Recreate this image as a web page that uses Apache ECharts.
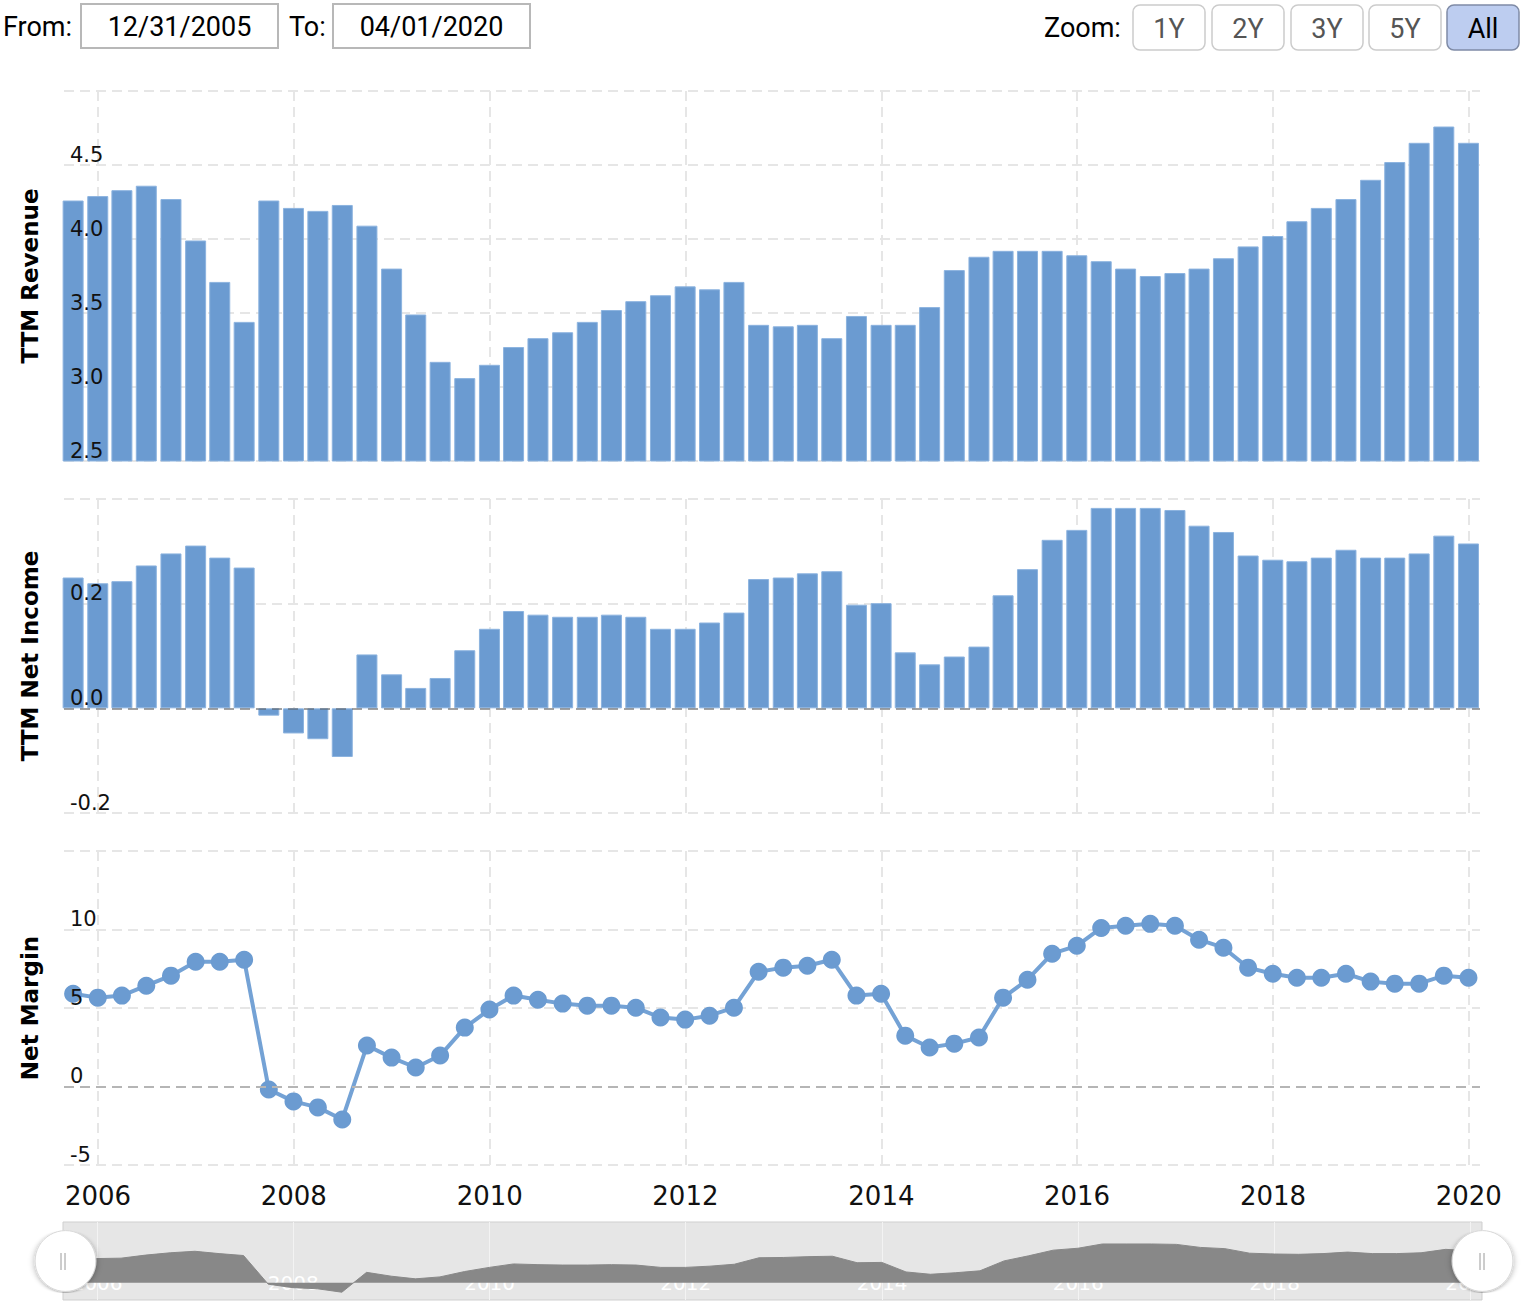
<!DOCTYPE html>
<html>
<head>
<meta charset="utf-8">
<script src="https://cdn.jsdelivr.net/npm/echarts@6/dist/echarts.min.js"></script>
<style>
html,body{margin:0;padding:0;background:#fff;}
#c{width:1524px;height:1310px;}
</style>
</head>
<body>
<div id="c"></div>
<script>
// ---------- DATA ----------
const quarterDates = ['2005-09-30','2005-12-31',
'2006-03-31','2006-06-30','2006-09-30','2006-12-31',
'2007-03-31','2007-06-30','2007-09-30','2007-12-31',
'2008-03-31','2008-06-30','2008-09-30','2008-12-31',
'2009-03-31','2009-06-30','2009-09-30','2009-12-31',
'2010-03-31','2010-06-30','2010-09-30','2010-12-31',
'2011-03-31','2011-06-30','2011-09-30','2011-12-31',
'2012-03-31','2012-06-30','2012-09-30','2012-12-31',
'2013-03-31','2013-06-30','2013-09-30','2013-12-31',
'2014-03-31','2014-06-30','2014-09-30','2014-12-31',
'2015-03-31','2015-06-30','2015-09-30','2015-12-31',
'2016-03-31','2016-06-30','2016-09-30','2016-12-31',
'2017-03-31','2017-06-30','2017-09-30','2017-12-31',
'2018-03-31','2018-06-30','2018-09-30','2018-12-31',
'2019-03-31','2019-06-30','2019-09-30','2019-12-31'];

// TTM Revenue (billions)
const ttmRevenue = [4.26,4.29,4.33,4.36,4.27,3.99,3.71,3.44,4.26,4.21,
4.19,4.23,4.09,3.80,3.49,3.17,3.06,3.15,3.27,3.33,
3.37,3.44,3.52,3.58,3.62,3.68,3.66,3.71,3.42,3.41,
3.42,3.33,3.48,3.42,3.42,3.54,3.79,3.88,3.92,3.92,
3.92,3.89,3.85,3.80,3.75,3.77,3.80,3.87,3.95,4.02,
4.12,4.21,4.27,4.40,4.52,4.65,4.76,4.65];

// TTM Net Income (billions)
const ttmNetIncome = [0.250,0.239,0.243,0.273,0.296,0.311,0.288,0.269,-0.014,-0.048,
-0.059,-0.093,0.103,0.065,0.039,0.058,0.111,0.152,0.186,0.179,
0.175,0.175,0.179,0.175,0.152,0.152,0.164,0.183,0.247,0.250,
0.258,0.262,0.198,0.201,0.107,0.084,0.099,0.118,0.216,0.266,
0.322,0.341,0.383,0.383,0.383,0.379,0.349,0.337,0.292,0.284,
0.281,0.288,0.303,0.288,0.288,0.296,0.330,0.315];

// Net Margin (%)
const netMargin = [5.91,5.66,5.79,6.42,7.06,7.95,7.95,8.07,-0.19,-0.95,
-1.33,-2.10,2.61,1.84,1.21,1.97,3.75,4.90,5.79,5.53,
5.28,5.15,5.15,5.02,4.39,4.26,4.51,5.02,7.31,7.57,
7.69,8.07,5.79,5.91,3.24,2.48,2.73,3.12,5.66,6.80,
8.46,8.96,10.1,10.24,10.36,10.24,9.35,8.84,7.57,7.18,
6.93,6.93,7.18,6.68,6.55,6.55,7.06,6.93];

const yearTickLabels = ['2006','2008','2010','2012','2014','2016','2018','2020'];
const fromDateText = '12/31/2005';
const toDateText = '04/01/2020';
const zoomButtons = ['1Y','2Y','3Y','5Y','All'];

// ---------- OPTION BUILDING ----------
const ts = s => { const p = s.split('-'); return Date.UTC(+p[0], +p[1]-1, +p[2]); };
const X_MIN = ts('2005-08-27');
const X_MAX = ts('2020-02-12');
const yearTickValues = yearTickLabels.map(y => Date.UTC(+y, 0, 1));
const yearFmt = v => String(new Date(v).getUTCFullYear());

const BLUE = '#6b9bd1';
const GRID_LINE = {color:'#e6e6e6', width:2, type:[10,6]};
const TICK_FONT = {fontFamily:'DejaVu Sans', fontSize:21, color:'#111'};
const NAME_FONT = {fontFamily:'DejaVu Sans', fontWeight:'bold', fontSize:23, color:'#000'};

function mainX(gridIndex, showLabels){
  return {
    type:'value', gridIndex, min:X_MIN, max:X_MAX,
    axisLine:{show:false},
    axisTick:{show:false, customValues:yearTickValues},
    axisLabel:{show:showLabels, customValues:yearTickValues, formatter:yearFmt,
      fontFamily:'DejaVu Sans', fontSize:26, color:'#111', margin:18},
    splitLine:{show:true, lineStyle:GRID_LINE}
  };
}
function splitY(gridIndex, min, max, interval){
  return {type:'value', gridIndex, min, max, interval, position:'left',
    axisLine:{show:false}, axisTick:{show:false}, axisLabel:{show:false},
    splitLine:{show:true, lineStyle:GRID_LINE}};
}
function labelY(gridIndex, min, max, interval, name, digits){
  return {type:'value', gridIndex, min, max, interval, position:'left', z:10,
    axisLine:{show:false}, axisTick:{show:false}, splitLine:{show:false},
    axisLabel:Object.assign({inside:true, margin:6, verticalAlign:'bottom', showMaxLabel:false,
      formatter:v => v.toFixed(digits)}, TICK_FONT),
    name, nameLocation:'middle', nameRotate:90, nameGap:23, nameTextStyle:NAME_FONT};
}
const zeroLine = {silent:true, symbol:['none','none'], label:{show:false},
  lineStyle:{color:'rgba(80,80,80,0.45)', type:[10,6], width:2}, data:[{yAxis:0}]};

const pairs = arr => quarterDates.map((d,i) => [ts(d), arr[i]]);

const graphics = [];
function txt(x, y, text, opts){
  graphics.push({type:'text', x, y, z:100, style:Object.assign({text, fontFamily:'Roboto', fontSize:27,
    fill:'#000', align:'left', verticalAlign:'middle'}, opts||{})});
}
function rect(x, y, w, h, r, fill, stroke, lw){
  graphics.push({type:'rect', z:99, shape:{x, y, width:w, height:h, r}, style:{fill, stroke, lineWidth:lw}});
}
txt(3, 27, 'From:');
rect(81, 4, 197, 44, 0, '#fff', '#b8b8b8', 2);
txt(179.5, 27, fromDateText, {align:'center'});
txt(289, 27, 'To:');
rect(333, 4, 197, 44, 0, '#fff', '#b8b8b8', 2);
txt(431.5, 27, toDateText, {align:'center'});
txt(1044, 28, 'Zoom:');
const btnX = [1133, 1212, 1291, 1369, 1447];
zoomButtons.forEach((b, i) => {
  const sel = b === 'All';
  rect(btnX[i], 5, 72, 45, 7, sel ? '#bdcdf0' : '#fff', sel ? '#7f8ba6' : '#cccccc', 1.5);
  txt(btnX[i] + 36, 28.5, b, {align:'center', fill: sel ? '#000' : '#555'});
});
// navigator handle grips
[[61,65],[1480,1484]].forEach(pair => pair.forEach(x => {
  graphics.push({type:'line', z:200, shape:{x1:x, y1:1253, x2:x, y2:1270}, style:{stroke:'#9a9a9a', lineWidth:1}});
}));

const option = {
  animation:false,
  backgroundColor:'#fff',
  grid:[
    {left:64, right:44, top:91, height:370},
    {left:64, right:44, top:499, height:314},
    {left:64, right:44, top:851, height:314},
    {left:63, right:42, top:1222, height:78, show:true, backgroundColor:'#e6e6e6', borderColor:'#cfcfcf', borderWidth:1}
  ],
  xAxis:[
    mainX(0,false), mainX(1,false), mainX(2,true),
    {type:'value', gridIndex:3, min:X_MIN, max:X_MAX,
      axisLine:{show:false}, axisTick:{show:false, customValues:yearTickValues},
      axisLabel:{inside:true, customValues:yearTickValues, formatter:yearFmt, color:'#fff',
        fontFamily:'DejaVu Sans', fontSize:20, margin:7},
      splitLine:{show:true, lineStyle:{color:'#f3f3f3', width:1}}}
  ],
  yAxis:[
    splitY(0, 2.5, 5, 0.5), labelY(0, 2.5, 5, 0.5, 'TTM Revenue', 1),
    splitY(1, -0.2, 0.4, 0.2), labelY(1, -0.2, 0.4, 0.2, 'TTM Net Income', 1),
    splitY(2, -5, 15, 5), labelY(2, -5, 15, 5, 'Net Margin', 0),
    {type:'value', gridIndex:3, min:-0.17, max:0.6, show:false}
  ],
  dataZoom:[{
    type:'slider', xAxisIndex:3, filterMode:'none', start:0, end:100,
    left:63, right:42, top:1222, height:78,
    showDataShadow:false, showDetail:false, brushSelect:false,
    backgroundColor:'rgba(0,0,0,0)', fillerColor:'rgba(0,0,0,0)', borderColor:'rgba(0,0,0,0)',
    handleIcon:'circle', handleSize:'78%',
    handleStyle:{color:'#fff', borderColor:'#d8d8d8', borderWidth:1, shadowBlur:6, shadowColor:'rgba(0,0,0,0.3)', shadowOffsetY:1},
    moveHandleSize:0,
    emphasis:{handleStyle:{color:'#fff', borderColor:'#d8d8d8'}}
  }],
  series:[
    {name:'TTM Revenue', type:'bar', xAxisIndex:0, yAxisIndex:0, data:pairs(ttmRevenue),
      barWidth:21, itemStyle:{color:BLUE, borderColor:'#8cb3df', borderWidth:1}},
    {name:'TTM Net Income', type:'bar', xAxisIndex:1, yAxisIndex:2, data:pairs(ttmNetIncome),
      barWidth:21, itemStyle:{color:BLUE, borderColor:'#8cb3df', borderWidth:1}, markLine:zeroLine},
    {name:'Net Margin', type:'line', xAxisIndex:2, yAxisIndex:4, data:pairs(netMargin),
      symbol:'circle', symbolSize:18, showAllSymbol:true,
      lineStyle:{color:'#74a2d5', width:4}, itemStyle:{color:BLUE},
      markLine:Object.assign({}, zeroLine, {lineStyle:{color:'#b5b5b5', type:[10,6], width:2}})},
    {name:'Navigator', type:'line', xAxisIndex:3, yAxisIndex:6, data:pairs(ttmNetIncome),
      symbol:'none', silent:true, lineStyle:{color:'#888', width:1}, areaStyle:{color:'#888', opacity:1}}
  ],
  graphic:graphics
};

const chart = echarts.init(document.getElementById('c'), null, {renderer:'svg', width:1524, height:1310});
chart.setOption(option);
</script>
</body>
</html>
